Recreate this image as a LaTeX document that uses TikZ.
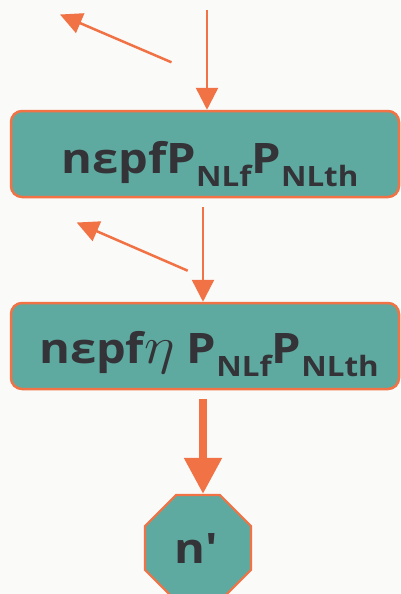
\documentclass[tikz,border=0pt]{standalone}
\usepackage{fix-cm}
\usepackage{fontspec}
\setmainfont{Open Sans}
\usetikzlibrary{arrows.meta,shapes.geometric}
\definecolor{bgc}{HTML}{FAFAF8}
\definecolor{tealc}{HTML}{5FAAA0}
\definecolor{orc}{HTML}{F07245}
\definecolor{txc}{HTML}{333338}
\newcommand{\bigtxt}[1]{\scalebox{1.12}[1]{\fontsize{42}{44}\selectfont\bfseries #1}}
\newcommand{\subt}[1]{\raisebox{-13pt}{\fontsize{28}{29}\selectfont\bfseries #1}}
\newcommand{\bigeta}{\scalebox{1.25}{$\eta$}}
\tikzset{
  boxst/.style={draw=orc, line width=2.5pt, fill=tealc, rounded corners=11pt,
    minimum width=388pt, minimum height=86pt, inner sep=0pt, text=txc, text depth=0pt},
  octst/.style={draw=orc, line width=2.2pt, fill=tealc, regular polygon, regular polygon sides=8,
    minimum size=114.7pt, inner sep=0pt, text=txc, text height=30pt, text depth=0pt},
  thin/.style={draw=orc, line width=2.5pt, -{Triangle[length=22pt,width=22pt]}},
  thinb/.style={draw=orc, line width=2.5pt, -{Triangle[length=22pt,width=21pt]}},
  thick/.style={draw=orc, line width=8pt, -{Triangle[length=36pt,width=36pt]}},
}
\begin{document}
\begin{tikzpicture}[x=1pt,y=1pt]
\fill[bgc] (0,0) rectangle (400,-594);
\useasboundingbox (0,0) rectangle (400,-594);
\node[boxst, text height=38pt] (b1) at (205,-154) {\hspace*{10pt}\bigtxt{nεpfP\subt{NLf}P\subt{NLth}}};
\node[boxst, text height=34pt] (b2) at (205,-346) {\hspace*{8pt}\bigtxt{nεpf\bigeta\ P\subt{NLf}P\subt{NLth}}};
\node[octst] (oc) at (198,-548) {\hspace*{-4pt}\bigtxt{n\textquotesingle}};
\coordinate (t1) at (207,-10);
\coordinate (d1s) at (171.5,-62.3);
\coordinate (d1e) at (60,-14.5);
\coordinate (t2) at (203,-207);
\coordinate (d2s) at (187.7,-270.7);
\coordinate (d2e) at (76.7,-222.5);
\coordinate (t3) at (203,-399);
\draw[thin] (t1) -- (t1 |- b1.north);
\draw[thinb] (d1s) -- (d1e);
\draw[thin] (t2) -- (t2 |- b2.north);
\draw[thinb] (d2s) -- (d2e);
\draw[thick] (t3) -- (t3 |- oc.north);
\end{tikzpicture}
\end{document}
